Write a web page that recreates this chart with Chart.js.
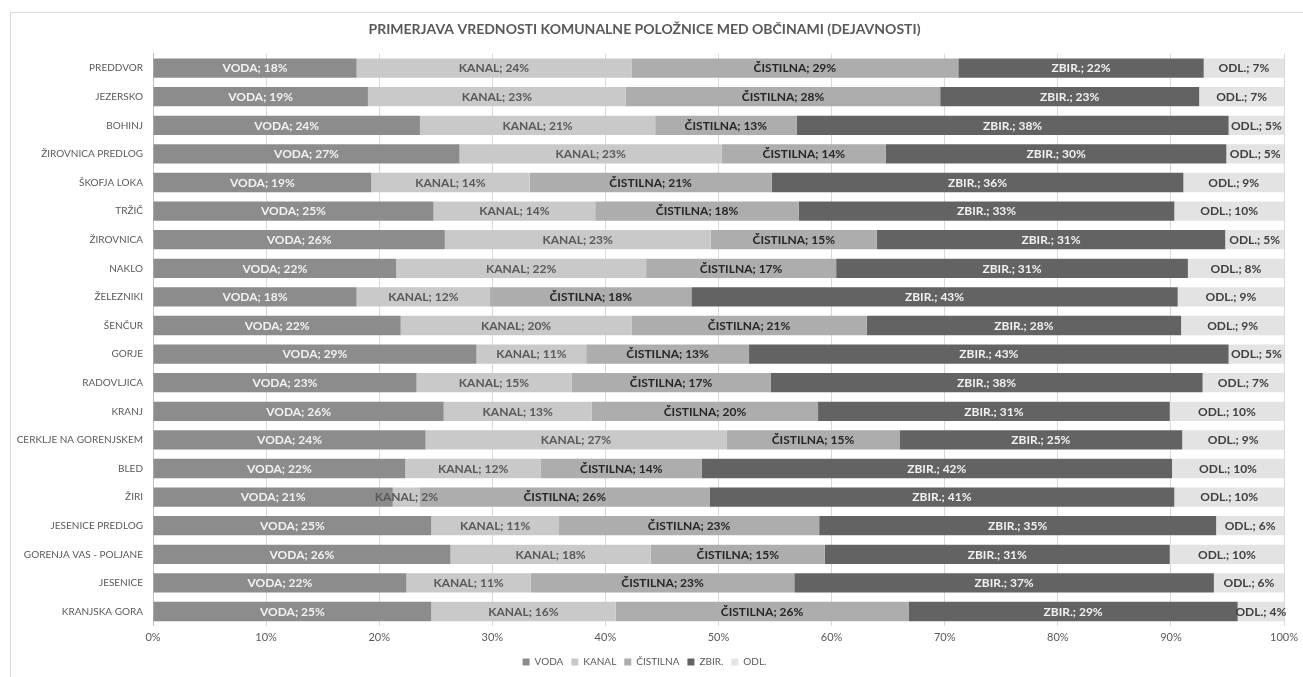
<!DOCTYPE html>
<html>
<head>
<meta charset="utf-8">
<script src="https://cdn.jsdelivr.net/npm/chart.js@4"></script>
<style>
  html, body { margin: 0; padding: 0; background: #fff; }
  #wrap { position: relative; width: 1303px; height: 677px; }
</style>
</head>
<body>
<div id="wrap"><canvas id="chart" width="1303" height="677"></canvas></div>
<script>
// --------- Datos ---------
const OBCINE = [
    "PREDDVOR", "JEZERSKO", "BOHINJ", "ŽIROVNICA PREDLOG", "ŠKOFJA LOKA",
    "TRŽIČ", "ŽIROVNICA", "NAKLO", "ŽELEZNIKI", "ŠENČUR",
    "GORJE", "RADOVLJICA", "KRANJ", "CERKLJE NA GORENJSKEM", "BLED",
    "ŽIRI", "JESENICE PREDLOG", "GORENJA VAS - POLJANE", "JESENICE", "KRANJSKA GORA",
];
const SERIJE = ["VODA", "KANAL", "ČISTILNA", "ZBIR.", "ODL."];

// deleži (širina segmentov, %)
const VODA = [18.0, 19.0, 23.6, 27.1, 19.3, 24.8, 25.8, 21.5, 18.0, 21.9, 28.6, 23.3, 25.7, 24.1, 22.3, 21.2, 24.6, 26.3, 22.4, 24.6];
const KANAL = [24.3, 22.8, 20.8, 23.2, 14.0, 14.3, 23.5, 22.1, 11.8, 20.4, 9.7, 13.7, 13.1, 26.6, 12.0, 2.4, 11.3, 17.7, 11.0, 16.3];
const CISTILNA = [28.9, 27.8, 12.5, 14.5, 21.4, 18.0, 14.7, 16.8, 17.8, 20.8, 14.4, 17.6, 20.0, 15.3, 14.2, 25.6, 23.0, 15.4, 23.3, 25.9];
const ZBIR = [21.7, 22.9, 38.2, 30.1, 36.4, 33.2, 30.8, 31.1, 43.0, 27.8, 42.4, 38.2, 31.1, 25.0, 41.6, 41.1, 35.1, 30.5, 37.1, 29.1];
const ODL = [7.1, 7.5, 4.9, 5.1, 8.9, 9.7, 5.2, 8.5, 9.4, 9.1, 4.9, 7.2, 10.1, 9.0, 9.9, 9.7, 6.0, 10.1, 6.2, 4.1];

// oznake podatkov, kot so zapisane na grafu
const VODA_LBL = [18, 19, 24, 27, 19, 25, 26, 22, 18, 22, 29, 23, 26, 24, 22, 21, 25, 26, 22, 25];
const KANAL_LBL = [24, 23, 21, 23, 14, 14, 23, 22, 12, 20, 11, 15, 13, 27, 12, 2, 11, 18, 11, 16];
const CISTILNA_LBL = [29, 28, 13, 14, 21, 18, 15, 17, 18, 21, 13, 17, 20, 15, 14, 26, 23, 15, 23, 26];
const ZBIR_LBL = [22, 23, 38, 30, 36, 33, 31, 31, 43, 28, 43, 38, 31, 25, 42, 41, 35, 31, 37, 29];
const ODL_LBL = [7, 7, 5, 5, 9, 10, 5, 8, 9, 9, 5, 7, 10, 9, 10, 10, 6, 10, 6, 4];

const X_TICKS = [0, 10, 20, 30, 40, 50, 60, 70, 80, 90, 100];

const BARVE = ["#8c8c8c", "#c9c9c9", "#adadad", "#636363", "#e3e3e3"];
const BARVE_TEXT = ["#f2f2f2", "#595959", "#262626", "#f2f2f2", "#404040"];

const VREDNOSTI = [VODA, KANAL, CISTILNA, ZBIR, ODL];
const OZNAKE = [VODA_LBL, KANAL_LBL, CISTILNA_LBL, ZBIR_LBL, ODL_LBL];
const FONT = "Lato, 'Open Sans', sans-serif";

// okvir grafa
const okvirPlugin = {
    id: "okvir",
    beforeDraw(chart) {
        const ctx = chart.ctx;
        ctx.save();
        ctx.strokeStyle = "#d9d9d9";
        ctx.lineWidth = 1;
        ctx.strokeRect(10.5, 12.5, 1400, 800);
        ctx.restore();
    },
};

// oznake na segmentih
const oznakePlugin = {
    id: "oznake",
    afterDatasetsDraw(chart) {
        const ctx = chart.ctx;
        ctx.save();
        ctx.font = "bold 12px " + FONT;
        ctx.textAlign = "center";
        ctx.textBaseline = "middle";
        chart.data.datasets.forEach((ds, i) => {
            const meta = chart.getDatasetMeta(i);
            meta.data.forEach((bar, j) => {
                const cx = (bar.x + bar.base) / 2;
                ctx.fillStyle = BARVE_TEXT[i];
                ctx.fillText(`${ds.label}; ${OZNAKE[i][j]}%`, cx, bar.y + 0.5);
            });
        });
        ctx.restore();
    },
};

const datasets = SERIJE.map((s, i) => ({
    label: s,
    data: VREDNOSTI[i],
    backgroundColor: BARVE[i],
    borderWidth: 0,
    barPercentage: 0.675,
    categoryPercentage: 1,
}));

new Chart(document.getElementById("chart"), {
    type: "bar",
    data: { labels: OBCINE, datasets },
    options: {
        indexAxis: "y",
        responsive: false,
        animation: false,
        layout: { padding: { left: 0, right: 14, top: 0, bottom: 0 } },
        plugins: {
            title: {
                display: true,
                text: "PRIMERJAVA VREDNOSTI KOMUNALNE POLOŽNICE MED OBČINAMI (DEJAVNOSTI)",
                color: "#595959",
                font: { family: FONT, size: 14, weight: "bold" },
                padding: { top: 21, bottom: 16 },
            },
            legend: {
                position: "bottom",
                labels: {
                    color: "#595959",
                    font: { family: FONT, size: 10 },
                    boxWidth: 7,
                    boxHeight: 7,
                    padding: 8,
                },
            },
            tooltip: { enabled: false },
        },
        scales: {
            x: {
                stacked: true,
                min: 0,
                max: 100,
                afterBuildTicks: (scale) => {
                    scale.ticks = X_TICKS.map((v) => ({ value: v }));
                },
                ticks: {
                    color: "#595959",
                    font: { family: FONT, size: 11 },
                    padding: 5,
                    callback: (v) => v + "%",
                },
                grid: { color: "#d9d9d9", drawTicks: false },
                border: { display: false },
            },
            y: {
                stacked: true,
                afterFit: (scale) => {
                    scale.width = 153;
                },
                ticks: {
                    color: "#595959",
                    font: { family: FONT, size: 10 },
                    padding: 10,
                    autoSkip: false,
                },
                grid: { display: false, drawTicks: false },
                border: { display: true, color: "#bfbfbf" },
            },
        },
    },
    plugins: [okvirPlugin, oznakePlugin],
});
</script>
</body>
</html>
